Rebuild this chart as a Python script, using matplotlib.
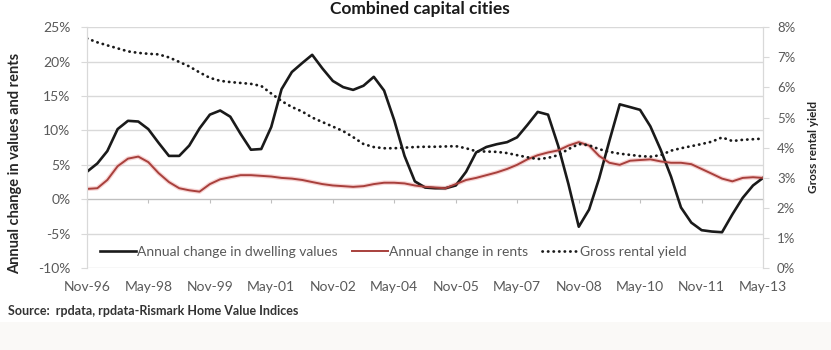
"""
plot.py - Variação anual de valores e aluguéis, capitais combinadas
"""

import pandas as pd
import matplotlib.pyplot as plt
import matplotlib.dates as mdates
from matplotlib.patches import Rectangle
from matplotlib.ticker import MultipleLocator, FuncFormatter

plt.rcParams['font.family'] = ['Lato', 'DejaVu Sans']

# Meses desde Nov-96 (leitura trimestral do gráfico)
meses = list(range(0, 199, 3))

# Variação anual dos valores dos imóveis (%)
valores = [4.0, 5.2, 7.0, 10.2, 11.4, 11.3, 10.2, 8.2, 6.3, 6.3,
           7.8, 10.3, 12.3, 12.9, 12.0, 9.5, 7.2, 7.3, 10.5, 16.0,
           18.5, 19.8, 21.0, 19.0, 17.2, 16.3, 15.9, 16.5, 17.8, 15.8,
           11.5, 6.3, 2.6, 1.7, 1.6, 1.6, 2.0, 4.0, 6.8, 7.6,
           8.0, 8.3, 9.0, 10.8, 12.7, 12.3, 7.8, 2.2, -4.0, -1.5,
           3.0, 8.5, 13.8, 13.4, 13.0, 10.6, 7.2, 3.3, -1.2, -3.4,
           -4.5, -4.7, -4.8, -2.2, 0.2, 2.0, 3.1]

# Variação anual dos aluguéis (%)
alugueis = [1.5, 1.6, 2.8, 4.8, 5.9, 6.2, 5.4, 3.8, 2.5, 1.6,
            1.3, 1.1, 2.2, 2.9, 3.2, 3.5, 3.5, 3.4, 3.3, 3.1,
            3.0, 2.8, 2.5, 2.2, 2.0, 1.9, 1.8, 1.9, 2.2, 2.4,
            2.4, 2.3, 2.0, 1.8, 1.7, 1.6, 2.2, 2.8, 3.1, 3.5,
            3.9, 4.4, 5.0, 5.8, 6.4, 6.8, 7.1, 7.8, 8.3, 7.8,
            6.3, 5.3, 5.0, 5.6, 5.7, 5.8, 5.5, 5.3, 5.3, 5.1,
            4.4, 3.7, 3.0, 2.6, 3.1, 3.2, 3.1]

# Rendimento bruto de aluguel (%), eixo direito
rendimento = [7.63, 7.50, 7.40, 7.30, 7.20, 7.15, 7.12, 7.10, 7.00, 6.85,
              6.70, 6.50, 6.32, 6.22, 6.18, 6.15, 6.12, 6.05, 5.80, 5.55,
              5.35, 5.20, 5.00, 4.85, 4.70, 4.55, 4.35, 4.12, 4.02, 3.98,
              3.98, 4.00, 4.02, 4.03, 4.03, 4.04, 4.05, 3.98, 3.88, 3.87,
              3.86, 3.82, 3.75, 3.68, 3.62, 3.66, 3.75, 3.95, 4.12, 4.08,
              3.95, 3.86, 3.80, 3.76, 3.72, 3.70, 3.75, 3.90, 3.98, 4.05,
              4.12, 4.20, 4.34, 4.22, 4.26, 4.28, 4.30]

datas = pd.date_range('1996-11-01', periods=199, freq='MS')[meses]
datas_ticks = pd.date_range('1996-11-01', '2013-05-01', freq='18MS')

COR_GRADE = '#d9d9d9'
COR_TEXTO = '#595959'

fig = plt.figure(figsize=(8.31, 3.5), dpi=100)
fig.patches.append(Rectangle((0, 0), 1, 28 / 350, transform=fig.transFigure,
                             facecolor='#faf9f7', edgecolor='none', zorder=0))

ax = fig.add_axes([87 / 831, 1 - 268 / 350, (763 - 87) / 831, (268 - 27.3) / 350])
ax2 = ax.twinx()

# Linhas
l1, = ax.plot(datas, valores, color='#1a1a1a', lw=1.9,
              label='Annual change in dwelling values', zorder=3)
l2, = ax.plot(datas, alugueis, color='#a8403c', lw=1.4,
              label='Annual change in rents', zorder=3)
ax.plot(datas, alugueis, color='#f2b8b8', lw=3.2, alpha=0.6, zorder=2)
l3, = ax2.plot(datas, rendimento, color='#1a1a1a', lw=2.0,
               linestyle=(0, (0.1, 1.9)), dash_capstyle='round',
               label='Gross rental yield')

# Eixo esquerdo
ax.set_ylim(-10, 25)
ax.yaxis.set_major_locator(MultipleLocator(5))
ax.yaxis.set_major_formatter(FuncFormatter(lambda v, p: f'{v:.0f}%'))
ax.grid(axis='y', color=COR_GRADE, lw=1)
ax.set_axisbelow(True)

# Eixo direito
ax2.set_ylim(0, 8)
ax2.yaxis.set_major_locator(MultipleLocator(1))
ax2.yaxis.set_major_formatter(FuncFormatter(lambda v, p: f'{v:.0f}%'))

# Eixo x na linha do zero, rótulos embaixo
ax.set_xlim(datas_ticks[0], pd.Timestamp('2013-05-01'))
ax.set_xticks(datas_ticks)
ax.xaxis.set_major_formatter(mdates.DateFormatter('%b-%y'))
ax.spines['bottom'].set_position(('data', 0))
ax.tick_params(axis='x', direction='out', length=3, color='#bfbfbf',
               pad=56, labelsize=10, labelcolor=COR_TEXTO)
ax.tick_params(axis='y', length=4, color='#d9d9d9', labelsize=10,
               labelcolor=COR_TEXTO, pad=8)
ax2.tick_params(axis='y', length=4, color='#d9d9d9', labelsize=9.5,
                labelcolor=COR_TEXTO, pad=6)

for a in (ax, ax2):
    a.spines['top'].set_visible(False)
    a.spines['left'].set_color('#d9d9d9')
    a.spines['right'].set_color('#d9d9d9')
    a.spines['bottom'].set_color('#bfbfbf')
ax2.spines['bottom'].set_visible(False)

ax.set_ylabel('Annual change in values and rents', fontsize=10.5,
              fontweight='bold', color='#262626')
ax.yaxis.set_label_coords(-0.096, 0.436)
ax2.set_ylabel('Gross rental yield', fontsize=8.5, fontweight='bold',
               color='#262626', rotation=90)
ax2.yaxis.set_label_coords(1.066, 0.503)

ax2.legend(handles=[l1, l2, l3], loc='lower left', ncol=3, frameon=False,
           fontsize=10, bbox_to_anchor=(0.0, -0.01), handlelength=2.6,
           handletextpad=0.1, columnspacing=1.0, labelcolor=COR_TEXTO)

fig.text(0.505, 0.997, 'Combined capital cities', ha='center', va='top',
         fontsize=12.5, fontweight='bold', color='#1a1a1a')
fig.text(0.01, 1 - 311 / 350, 'Source:  rpdata, rpdata-Rismark Home Value Indices',
         fontsize=9, fontweight='bold', color='#333333', va='center')

fig.savefig('out.png', dpi=100)
